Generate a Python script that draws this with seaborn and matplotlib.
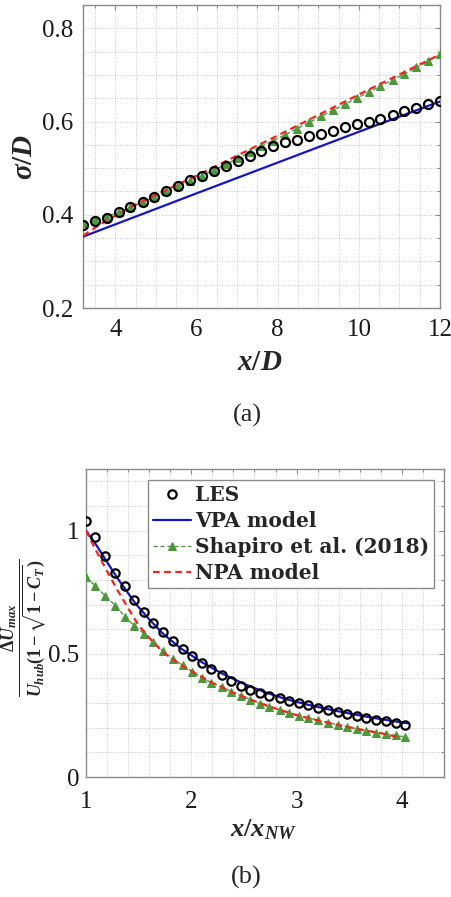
import numpy as np
import pandas as pd
import matplotlib
matplotlib.use("Agg")
import matplotlib.pyplot as plt
from matplotlib.ticker import MultipleLocator, FixedLocator
import seaborn as sns

# ---------------- data: panel (a) ----------------
xa_pts = [3.20, 3.49, 3.79, 4.08, 4.37, 4.67, 4.96, 5.25, 5.55, 5.84, 6.13,
          6.43, 6.72, 7.01, 7.31, 7.60, 7.89, 8.19, 8.48, 8.77, 9.07, 9.36,
          9.65, 9.95, 10.24, 10.53, 10.83, 11.12, 11.41, 11.71, 12.00]
les_a = [0.377, 0.386, 0.394, 0.406, 0.417, 0.427, 0.439, 0.450, 0.462, 0.474,
         0.484, 0.494, 0.505, 0.516, 0.526, 0.537, 0.547, 0.556, 0.561, 0.568,
         0.574, 0.580, 0.588, 0.594, 0.600, 0.605, 0.613, 0.622, 0.630, 0.637,
         0.645]
shapiro_a = [0.382, 0.388, 0.396, 0.406, 0.416, 0.427, 0.438, 0.450, 0.461,
             0.473, 0.484, 0.496, 0.508, 0.521, 0.534, 0.547, 0.559, 0.572,
             0.585, 0.598, 0.611, 0.624, 0.637, 0.650, 0.663, 0.676, 0.689,
             0.702, 0.716, 0.729, 0.744]
vpa_a_x = [3.2, 6.0, 8.0, 10.0, 12.0]
vpa_a_y = [0.353, 0.446, 0.512, 0.578, 0.643]
npa_a_x = [3.2, 3.6, 4.0, 4.5, 5.0, 6.0, 7.0, 8.0, 9.0, 10.0, 11.0, 12.0]
npa_a_y = [0.355, 0.378, 0.398, 0.422, 0.443, 0.484, 0.527, 0.570, 0.614,
           0.658, 0.701, 0.744]

# ---------------- data: panel (b) ----------------
xb_pts = [1.00, 1.09, 1.18, 1.28, 1.37, 1.46, 1.55, 1.64, 1.73, 1.83, 1.92,
          2.01, 2.10, 2.19, 2.29, 2.38, 2.47, 2.56, 2.65, 2.74, 2.84, 2.93,
          3.02, 3.11, 3.20, 3.30, 3.39, 3.48, 3.57, 3.66, 3.75, 3.85, 3.94,
          4.03]
les_b = [1.038, 0.973, 0.898, 0.828, 0.776, 0.718, 0.669, 0.627, 0.587, 0.550,
         0.520, 0.491, 0.461, 0.437, 0.414, 0.391, 0.370, 0.354, 0.340, 0.330,
         0.319, 0.308, 0.300, 0.292, 0.282, 0.273, 0.265, 0.257, 0.249, 0.241,
         0.233, 0.228, 0.220, 0.212]
shapiro_b = [0.812, 0.775, 0.736, 0.696, 0.650, 0.614, 0.582, 0.547, 0.511,
             0.477, 0.453, 0.428, 0.403, 0.383, 0.365, 0.346, 0.330, 0.314,
             0.298, 0.284, 0.273, 0.260, 0.249, 0.239, 0.231, 0.220, 0.212,
             0.204, 0.196, 0.188, 0.180, 0.174, 0.169, 0.162]
vpa_b_x = [1.0, 1.1, 1.19, 1.3, 1.47, 1.6, 1.73, 1.9, 2.1, 2.3, 2.5, 2.7,
           2.9, 3.1, 3.3, 3.5, 3.7, 3.9, 4.05]
vpa_b_y = [1.0, 0.94, 0.879, 0.806, 0.704, 0.640, 0.582, 0.522, 0.466, 0.418,
           0.378, 0.344, 0.316, 0.294, 0.275, 0.258, 0.242, 0.228, 0.218]
npa_b_x = [1.0, 1.1, 1.2, 1.3, 1.4, 1.5, 1.6, 1.7, 1.8, 2.0, 2.2, 2.4, 2.6,
           2.8, 3.0, 3.2, 3.4, 3.6, 3.8, 3.98]
npa_b_y = [1.0, 0.915, 0.835, 0.757, 0.685, 0.615, 0.565, 0.520, 0.483, 0.430,
           0.382, 0.342, 0.308, 0.278, 0.251, 0.230, 0.211, 0.193, 0.178, 0.160]

labels = ["LES", "VPA model", "Shapiro et al. (2018)", "NPA model"]

xticks_a = [4, 6, 8, 10, 12]
yticks_a = [0.2, 0.4, 0.6, 0.8]
xticks_b = [1, 2, 3, 4]
yticks_b = [0, 0.5, 1]

# ---------------- style ----------------
sns.set_theme(style="white")
plt.rcParams["font.family"] = ["Liberation Serif", "DejaVu Serif"]
plt.rcParams["mathtext.fontset"] = "custom"
plt.rcParams["mathtext.it"] = "Liberation Serif:italic:bold"
plt.rcParams["mathtext.rm"] = "Liberation Serif:bold"
plt.rcParams["mathtext.bf"] = "Liberation Serif:bold"
plt.rcParams["mathtext.fallback"] = "stix"

C_LES = "black"
C_VPA = "#1414cc"
C_SH = "#4a9a3a"
C_NPA = "#ff2020"
SPINE = "#8a8a8a"

fig = plt.figure(figsize=(4.52, 8.97), dpi=100)
ax1 = fig.add_axes([83 / 452, (897 - 308) / 897, 357 / 452, 303 / 897])
ax2 = fig.add_axes([86 / 452, (897 - 777) / 897, 358 / 452, 308 / 897])

df_a = pd.DataFrame({"x": xa_pts, "les": les_a, "sh": shapiro_a})
df_av = pd.DataFrame({"x": vpa_a_x, "y": vpa_a_y})
df_an = pd.DataFrame({"x": npa_a_x, "y": npa_a_y})
df_b = pd.DataFrame({"x": xb_pts, "les": les_b, "sh": shapiro_b})
df_bv = pd.DataFrame({"x": vpa_b_x, "y": vpa_b_y})
df_bn = pd.DataFrame({"x": npa_b_x, "y": npa_b_y})


def draw(ax, d, dv, dn, ms_c):
    sns.lineplot(data=dv, x="x", y="y", ax=ax, color=C_VPA, lw=1.6,
                 sort=False, estimator=None, label=labels[1], zorder=3)
    sns.lineplot(data=d, x="x", y="sh", ax=ax, color=C_SH, lw=1.0,
                 linestyle=(0, (3, 2)), marker="^", markersize=6,
                 markeredgecolor=C_SH, markerfacecolor=C_SH,
                 sort=False, estimator=None, label=labels[2], zorder=4)
    sns.lineplot(data=dn, x="x", y="y", ax=ax, color=C_NPA, lw=1.6,
                 linestyle=(0, (3, 2)), sort=False, estimator=None,
                 label=labels[3], zorder=5)
    sns.lineplot(data=d, x="x", y="les", ax=ax, color=C_LES, lw=0,
                 linestyle="none", marker="o", markersize=ms_c,
                 markerfacecolor="none", markeredgecolor=C_LES,
                 markeredgewidth=1.6, sort=False, estimator=None,
                 label=labels[0], zorder=6)


draw(ax1, df_a, df_av, df_an, 6.5)
draw(ax2, df_b, df_bv, df_bn, 6.0)

for ax in (ax1, ax2):
    ax.set_facecolor("white")
    for s in ax.spines.values():
        s.set_color(SPINE)
        s.set_linewidth(1.0)
        s.set_visible(True)
    ax.tick_params(which="both", direction="in", top=True, right=True,
                   color=SPINE, width=0.8, labelsize=18, labelcolor="#1a1a1a")
    ax.tick_params(which="major", length=3.5)
    ax.tick_params(which="minor", length=2)
    ax.grid(which="both", linestyle=(0, (1, 1.5)), color="#c9c9c9", lw=0.7)
    ax.set_axisbelow(True)

ax1.set_xlim(3.2, 12)
ax1.set_ylim(0.2, 0.85)
ax1.xaxis.set_major_locator(FixedLocator(xticks_a))
ax1.yaxis.set_major_locator(FixedLocator(yticks_a))
ax1.set_xticklabels([str(v) for v in xticks_a])
ax1.set_yticklabels([f"{v:.1f}" for v in yticks_a])
ax1.xaxis.set_minor_locator(MultipleLocator(0.5))
ax1.yaxis.set_minor_locator(MultipleLocator(0.05))
ax1.tick_params(axis="x", pad=8)
ax1.tick_params(axis="y", pad=7)
ax1.get_legend().remove()

ax2.set_xlim(1, 4.4)
ax2.set_ylim(0, 1.25)
ax2.xaxis.set_major_locator(FixedLocator(xticks_b))
ax2.yaxis.set_major_locator(FixedLocator(yticks_b))
ax2.set_xticklabels([str(v) for v in xticks_b])
ax2.set_yticklabels(["0", "0.5", "1"])
ax2.xaxis.set_minor_locator(MultipleLocator(0.2))
ax2.yaxis.set_minor_locator(MultipleLocator(0.1))
ax2.tick_params(axis="x", pad=10)
ax2.tick_params(axis="y", pad=5)

# axis labels
ax1.set_xlabel(r"$x/D$", fontsize=21)
ax1.xaxis.set_label_coords(0.496, -0.182)
ax1.xaxis.label.set_va("center")
ax1.set_ylabel(r"$\sigma/D$", fontsize=21)
ax1.yaxis.set_label_coords(-0.162, 0.498)
ax1.yaxis.label.set_va("center")

ax2.set_xlabel(r"$x/x_{NW}$", fontsize=19)
ax2.xaxis.set_label_coords(0.497, -0.172)
ax2.xaxis.label.set_va("center")
ax2.set_ylabel(r"$\dfrac{\Delta U_{max}}{U_{hub}(1-\sqrt{1-C_T})}$", fontsize=13)
ax2.yaxis.set_label_coords(-0.174, 0.484)
ax2.yaxis.label.set_va("center")

# legend
h, l = ax2.get_legend_handles_labels()
order = [l.index(t) for t in labels]
leg = ax2.legend([h[i] for i in order], [l[i] for i in order],
                 loc="upper right", bbox_to_anchor=((434 - 86) / 358, (777 - 480) / 308),
                 borderaxespad=0, frameon=True, fancybox=False, framealpha=1,
                 edgecolor=SPINE,
                 prop=dict(size=14.5, family="DejaVu Serif", weight="bold"),
                 handlelength=1.9, handletextpad=0.2, labelspacing=0.3,
                 borderpad=0.25)
leg.get_frame().set_linewidth(1.0)

fig.text(247 / 452, 1 - 415 / 897, "(a)", ha="center", va="center", fontsize=19)
fig.text(246 / 452, 1 - 877 / 897, "(b)", ha="center", va="center", fontsize=19)

fig.savefig("out.png", dpi=100, facecolor="white")
